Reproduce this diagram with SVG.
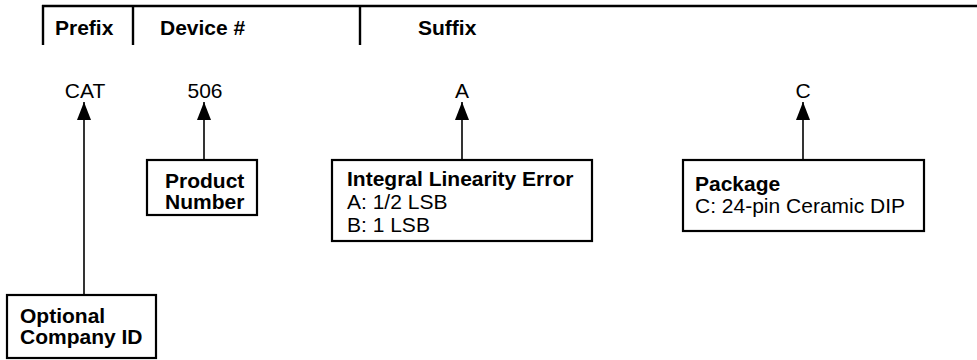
<svg xmlns="http://www.w3.org/2000/svg" width="977" height="360" viewBox="0 0 977 360">
<style>
text{font-family:"Liberation Sans",Arial,Helvetica,sans-serif;font-size:21px;fill:#000}
.b{font-weight:bold}
.box{fill:#fff;stroke:#000;stroke-width:2.2}
.rule{stroke:#000;stroke-width:2.4;fill:none}
.conn{stroke:#000;stroke-width:1.6;fill:none;marker-end:url(#ah)}
.c{text-anchor:middle}
</style>
<defs>
<marker id="ah" markerUnits="userSpaceOnUse" viewBox="0 0 18 14" markerWidth="18" markerHeight="14" refX="18" refY="7" orient="auto">
<path d="M0,0 L18,7 L0,14 Z" fill="#000"/>
</marker>
</defs>
<g id="header">
<line class="rule" x1="42" y1="6" x2="977" y2="6"/>
<line class="rule" x1="43" y1="5" x2="43" y2="45"/>
<line class="rule" x1="133" y1="5" x2="133" y2="45"/>
<line class="rule" x1="360" y1="5" x2="360" y2="45"/>
<text class="b" x="55" y="35">Prefix</text>
<text class="b" x="160" y="35">Device #</text>
<text class="b" x="418" y="35">Suffix</text>
</g>
<g id="codes">
<text class="c" x="85" y="98">CAT</text>
<text class="c" x="205" y="98">506</text>
<text class="c" x="462" y="98">A</text>
<text class="c" x="803" y="98">C</text>
</g>
<g id="connectors">
<line class="conn" x1="84" y1="295" x2="84" y2="102"/>
<line class="conn" x1="204" y1="160" x2="204" y2="102"/>
<line class="conn" x1="462" y1="160" x2="462" y2="102"/>
<line class="conn" x1="803" y1="160" x2="803" y2="102"/>
</g>
<g id="company-id">
<rect class="box" x="7" y="295" width="149" height="63"/>
<text class="b" x="20" y="323">Optional</text>
<text class="b" x="20" y="344">Company ID</text>
</g>
<g id="product-number">
<rect class="box" x="147" y="160" width="110" height="55"/>
<text class="b" x="165" y="188">Product</text>
<text class="b" x="165" y="209">Number</text>
</g>
<g id="linearity">
<rect class="box" x="332" y="160" width="260" height="81"/>
<text class="b" x="347" y="186">Integral Linearity Error</text>
<text x="347" y="209">A: 1/2 LSB</text>
<text x="347" y="232">B: 1 LSB</text>
</g>
<g id="package">
<rect class="box" x="683" y="160" width="241" height="71"/>
<text class="b" x="695" y="191">Package</text>
<text x="695" y="213">C: 24-pin Ceramic DIP</text>
</g>
</svg>
